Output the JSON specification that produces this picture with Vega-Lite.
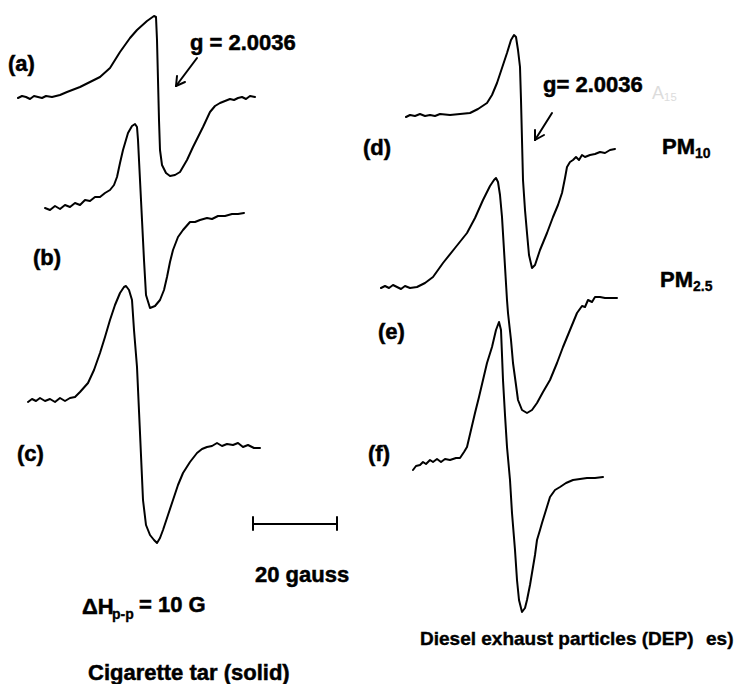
{
  "$schema": "https://vega.github.io/schema/vega-lite/v6.json",
  "width": 739,
  "height": 684,
  "autosize": {"type": "none"},
  "padding": 0,
  "background": "white",
  "config": {"view": {"stroke": null}, "axis": {"disable": true}},
  "datasets": {
    "curves": [
      {"s":"a","x":18,"y":98},{"s":"a","x":22,"y":96},{"s":"a","x":26,"y":97},{"s":"a","x":30,"y":99},{"s":"a","x":34,"y":96},{"s":"a","x":38,"y":97},{"s":"a","x":42,"y":98},{"s":"a","x":46,"y":96},{"s":"a","x":52,"y":97},{"s":"a","x":60,"y":95},{"s":"a","x":67,"y":92},{"s":"a","x":80,"y":87},{"s":"a","x":100,"y":77},{"s":"a","x":110,"y":68},{"s":"a","x":120,"y":52},{"s":"a","x":130,"y":38},{"s":"a","x":137,"y":30},{"s":"a","x":147,"y":21},{"s":"a","x":154,"y":16},{"s":"a","x":156,"y":17},{"s":"a","x":157,"y":40},{"s":"a","x":158,"y":80},{"s":"a","x":159,"y":120},{"s":"a","x":160,"y":150},{"s":"a","x":162,"y":165},{"s":"a","x":166,"y":173},{"s":"a","x":170,"y":176},{"s":"a","x":175,"y":175},{"s":"a","x":180,"y":172},{"s":"a","x":187,"y":160},{"s":"a","x":193,"y":147},{"s":"a","x":203,"y":127},{"s":"a","x":210,"y":112},{"s":"a","x":215,"y":106},{"s":"a","x":220,"y":103},{"s":"a","x":225,"y":101},{"s":"a","x":230,"y":99},{"s":"a","x":234,"y":100},{"s":"a","x":238,"y":98},{"s":"a","x":242,"y":97},{"s":"a","x":246,"y":99},{"s":"a","x":250,"y":96},{"s":"a","x":255,"y":97},
      {"s":"b","x":45,"y":208},{"s":"b","x":50,"y":210},{"s":"b","x":55,"y":206},{"s":"b","x":60,"y":209},{"s":"b","x":65,"y":205},{"s":"b","x":70,"y":207},{"s":"b","x":75,"y":203},{"s":"b","x":80,"y":205},{"s":"b","x":85,"y":200},{"s":"b","x":90,"y":201},{"s":"b","x":95,"y":197},{"s":"b","x":100,"y":197},{"s":"b","x":105,"y":193},{"s":"b","x":110,"y":190},{"s":"b","x":114,"y":185},{"s":"b","x":117,"y":177},{"s":"b","x":120,"y":163},{"s":"b","x":123,"y":150},{"s":"b","x":128,"y":133},{"s":"b","x":132,"y":126},{"s":"b","x":135,"y":124},{"s":"b","x":137,"y":127},{"s":"b","x":138,"y":140},{"s":"b","x":140,"y":180},{"s":"b","x":142,"y":220},{"s":"b","x":144,"y":260},{"s":"b","x":146,"y":295},{"s":"b","x":150,"y":308},{"s":"b","x":155,"y":306},{"s":"b","x":160,"y":300},{"s":"b","x":164,"y":290},{"s":"b","x":167,"y":277},{"s":"b","x":170,"y":262},{"s":"b","x":173,"y":250},{"s":"b","x":178,"y":237},{"s":"b","x":183,"y":230},{"s":"b","x":190,"y":222},{"s":"b","x":195,"y":222},{"s":"b","x":200,"y":220},{"s":"b","x":207,"y":218},{"s":"b","x":212,"y":219},{"s":"b","x":218,"y":216},{"s":"b","x":225,"y":216},{"s":"b","x":232,"y":214},{"s":"b","x":238,"y":214},{"s":"b","x":244,"y":213},
      {"s":"c","x":28,"y":402},{"s":"c","x":32,"y":399},{"s":"c","x":36,"y":401},{"s":"c","x":40,"y":398},{"s":"c","x":45,"y":401},{"s":"c","x":50,"y":399},{"s":"c","x":55,"y":402},{"s":"c","x":60,"y":398},{"s":"c","x":65,"y":401},{"s":"c","x":70,"y":398},{"s":"c","x":75,"y":397},{"s":"c","x":80,"y":392},{"s":"c","x":88,"y":383},{"s":"c","x":94,"y":370},{"s":"c","x":100,"y":353},{"s":"c","x":105,"y":337},{"s":"c","x":110,"y":320},{"s":"c","x":115,"y":305},{"s":"c","x":120,"y":293},{"s":"c","x":124,"y":287},{"s":"c","x":126,"y":286},{"s":"c","x":129,"y":290},{"s":"c","x":132,"y":300},{"s":"c","x":134,"y":330},{"s":"c","x":137,"y":367},{"s":"c","x":140,"y":433},{"s":"c","x":143,"y":500},{"s":"c","x":146,"y":525},{"s":"c","x":150,"y":535},{"s":"c","x":154,"y":540},{"s":"c","x":157,"y":543},{"s":"c","x":160,"y":538},{"s":"c","x":163,"y":530},{"s":"c","x":168,"y":515},{"s":"c","x":173,"y":500},{"s":"c","x":178,"y":485},{"s":"c","x":183,"y":473},{"s":"c","x":190,"y":462},{"s":"c","x":197,"y":453},{"s":"c","x":202,"y":449},{"s":"c","x":207,"y":447},{"s":"c","x":212,"y":446},{"s":"c","x":217,"y":443},{"s":"c","x":222,"y":446},{"s":"c","x":227,"y":444},{"s":"c","x":233,"y":445},{"s":"c","x":238,"y":443},{"s":"c","x":243,"y":447},{"s":"c","x":248,"y":445},{"s":"c","x":254,"y":448},{"s":"c","x":260,"y":448},
      {"s":"d","x":406,"y":117},{"s":"d","x":410,"y":115},{"s":"d","x":415,"y":116},{"s":"d","x":420,"y":114},{"s":"d","x":425,"y":116},{"s":"d","x":430,"y":115},{"s":"d","x":435,"y":116},{"s":"d","x":440,"y":114},{"s":"d","x":450,"y":115},{"s":"d","x":460,"y":114},{"s":"d","x":470,"y":113},{"s":"d","x":478,"y":109},{"s":"d","x":487,"y":103},{"s":"d","x":492,"y":95},{"s":"d","x":497,"y":83},{"s":"d","x":502,"y":68},{"s":"d","x":507,"y":53},{"s":"d","x":511,"y":40},{"s":"d","x":514,"y":35},{"s":"d","x":516,"y":37},{"s":"d","x":518,"y":50},{"s":"d","x":520,"y":67},{"s":"d","x":521,"y":100},{"s":"d","x":522,"y":140},{"s":"d","x":523,"y":180},{"s":"d","x":525,"y":210},{"s":"d","x":527,"y":233},{"s":"d","x":529,"y":255},{"s":"d","x":532,"y":268},{"s":"d","x":535,"y":265},{"s":"d","x":540,"y":250},{"s":"d","x":547,"y":233},{"s":"d","x":553,"y":217},{"s":"d","x":558,"y":205},{"s":"d","x":562,"y":193},{"s":"d","x":565,"y":178},{"s":"d","x":567,"y":167},{"s":"d","x":570,"y":162},{"s":"d","x":573,"y":160},{"s":"d","x":576,"y":157},{"s":"d","x":579,"y":160},{"s":"d","x":582,"y":155},{"s":"d","x":585,"y":157},{"s":"d","x":590,"y":155},{"s":"d","x":595,"y":154},{"s":"d","x":600,"y":152},{"s":"d","x":605,"y":153},{"s":"d","x":610,"y":150},{"s":"d","x":615,"y":149},
      {"s":"e","x":381,"y":288},{"s":"e","x":385,"y":286},{"s":"e","x":389,"y":288},{"s":"e","x":393,"y":285},{"s":"e","x":397,"y":287},{"s":"e","x":401,"y":289},{"s":"e","x":405,"y":286},{"s":"e","x":410,"y":288},{"s":"e","x":417,"y":287},{"s":"e","x":425,"y":283},{"s":"e","x":433,"y":277},{"s":"e","x":443,"y":263},{"s":"e","x":455,"y":248},{"s":"e","x":467,"y":233},{"s":"e","x":475,"y":218},{"s":"e","x":483,"y":200},{"s":"e","x":490,"y":186},{"s":"e","x":494,"y":180},{"s":"e","x":496,"y":178},{"s":"e","x":498,"y":182},{"s":"e","x":500,"y":195},{"s":"e","x":502,"y":217},{"s":"e","x":504,"y":250},{"s":"e","x":507,"y":300},{"s":"e","x":508,"y":313},{"s":"e","x":511,"y":340},{"s":"e","x":513,"y":363},{"s":"e","x":516,"y":385},{"s":"e","x":518,"y":400},{"s":"e","x":522,"y":410},{"s":"e","x":527,"y":413},{"s":"e","x":532,"y":410},{"s":"e","x":537,"y":403},{"s":"e","x":543,"y":392},{"s":"e","x":550,"y":380},{"s":"e","x":557,"y":363},{"s":"e","x":563,"y":347},{"s":"e","x":570,"y":330},{"s":"e","x":577,"y":313},{"s":"e","x":582,"y":306},{"s":"e","x":585,"y":307},{"s":"e","x":588,"y":300},{"s":"e","x":592,"y":302},{"s":"e","x":595,"y":297},{"s":"e","x":600,"y":297},{"s":"e","x":605,"y":298},{"s":"e","x":610,"y":298},{"s":"e","x":617,"y":298},
      {"s":"f","x":413,"y":470},{"s":"f","x":416,"y":466},{"s":"f","x":420,"y":465},{"s":"f","x":423,"y":462},{"s":"f","x":426,"y":464},{"s":"f","x":430,"y":460},{"s":"f","x":433,"y":462},{"s":"f","x":437,"y":459},{"s":"f","x":441,"y":462},{"s":"f","x":445,"y":459},{"s":"f","x":450,"y":460},{"s":"f","x":456,"y":458},{"s":"f","x":460,"y":458},{"s":"f","x":464,"y":452},{"s":"f","x":467,"y":447},{"s":"f","x":471,"y":430},{"s":"f","x":475,"y":413},{"s":"f","x":479,"y":397},{"s":"f","x":483,"y":380},{"s":"f","x":487,"y":363},{"s":"f","x":492,"y":347},{"s":"f","x":496,"y":330},{"s":"f","x":499,"y":322},{"s":"f","x":501,"y":330},{"s":"f","x":503,"y":380},{"s":"f","x":505,"y":415},{"s":"f","x":507,"y":447},{"s":"f","x":510,"y":480},{"s":"f","x":512,"y":513},{"s":"f","x":515,"y":550},{"s":"f","x":517,"y":580},{"s":"f","x":519,"y":600},{"s":"f","x":522,"y":612},{"s":"f","x":525,"y":608},{"s":"f","x":527,"y":600},{"s":"f","x":530,"y":585},{"s":"f","x":532,"y":573},{"s":"f","x":535,"y":555},{"s":"f","x":537,"y":540},{"s":"f","x":540,"y":530},{"s":"f","x":542,"y":523},{"s":"f","x":546,"y":510},{"s":"f","x":550,"y":497},{"s":"f","x":555,"y":490},{"s":"f","x":560,"y":487},{"s":"f","x":566,"y":483},{"s":"f","x":573,"y":480},{"s":"f","x":580,"y":479},{"s":"f","x":587,"y":478},{"s":"f","x":595,"y":478},{"s":"f","x":603,"y":477}
    ],
    "segments": [
      {"x":197,"y":58,"x2":176,"y2":86},
      {"x":176,"y":86,"x2":185,"y2":82},
      {"x":176,"y":86,"x2":177,"y2":76},
      {"x":552,"y":113,"x2":535,"y2":140},
      {"x":535,"y":140,"x2":544,"y2":135},
      {"x":535,"y":140,"x2":535,"y2":130},
      {"x":253,"y":524,"x2":337,"y2":524},
      {"x":253,"y":517,"x2":253,"y2":530},
      {"x":337,"y":517,"x2":337,"y2":530}
    ],
    "labels": [
      {"t":"(a)","x":8,"y":71},
      {"t":"g = 2.0036","x":190,"y":50},
      {"t":"(b)","x":33,"y":265},
      {"t":"(c)","x":17,"y":461},
      {"t":"(d)","x":363,"y":155},
      {"t":"(e)","x":378,"y":339},
      {"t":"(f)","x":368,"y":461},
      {"t":"g= 2.0036","x":543,"y":92},
      {"t":"20 gauss","x":255,"y":582},
      {"t":"ΔH","x":82,"y":614},
      {"t":"= 10 G","x":139,"y":612},
      {"t":"Cigarette tar (solid)","x":88,"y":680},
      {"t":"PM","x":662,"y":154},
      {"t":"PM","x":660,"y":287}
    ],
    "subs": [
      {"t":"p-p","x":112,"y":619},
      {"t":"10","x":695,"y":158},
      {"t":"2.5","x":693,"y":291}
    ],
    "footer": [
      {"t":"Diesel exhaust particles (DEP)","x":420,"y":645},
      {"t":"es)","x":706,"y":645}
    ],
    "faint": [
      {"t":"A₁₅","x":652,"y":99}
    ]
  },
  "layer": [
    {
      "data": {"name": "curves"},
      "mark": {"type": "line", "color": "black", "strokeWidth": 2, "strokeJoin": "round", "strokeCap": "round"},
      "encoding": {
        "x": {"field": "x", "type": "quantitative", "scale": {"domain": [0, 739], "nice": false, "zero": false}},
        "y": {"field": "y", "type": "quantitative", "scale": {"domain": [0, 684], "nice": false, "zero": false, "reverse": true}},
        "detail": {"field": "s"},
        "order": {"value": null}
      }
    },
    {
      "data": {"name": "segments"},
      "mark": {"type": "rule", "color": "black", "strokeWidth": 2, "strokeCap": "round"},
      "encoding": {
        "x": {"field": "x", "type": "quantitative"},
        "y": {"field": "y", "type": "quantitative"},
        "x2": {"field": "x2"},
        "y2": {"field": "y2"}
      }
    },
    {
      "data": {"name": "labels"},
      "mark": {"type": "text", "font": "Liberation Sans", "fontWeight": "bold", "fontSize": 22, "align": "left", "baseline": "alphabetic", "color": "black", "stroke": "black", "strokeWidth": 0.5},
      "encoding": {
        "x": {"field": "x", "type": "quantitative"},
        "y": {"field": "y", "type": "quantitative"},
        "text": {"field": "t"}
      }
    },
    {
      "data": {"name": "subs"},
      "mark": {"type": "text", "font": "Liberation Sans", "fontWeight": "bold", "fontSize": 14, "align": "left", "baseline": "alphabetic", "color": "black", "stroke": "black", "strokeWidth": 0.3},
      "encoding": {
        "x": {"field": "x", "type": "quantitative"},
        "y": {"field": "y", "type": "quantitative"},
        "text": {"field": "t"}
      }
    },
    {
      "data": {"name": "footer"},
      "mark": {"type": "text", "font": "Liberation Sans", "fontWeight": "bold", "fontSize": 19, "align": "left", "baseline": "alphabetic", "color": "black", "stroke": "black", "strokeWidth": 0.4},
      "encoding": {
        "x": {"field": "x", "type": "quantitative"},
        "y": {"field": "y", "type": "quantitative"},
        "text": {"field": "t"}
      }
    },
    {
      "data": {"name": "faint"},
      "mark": {"type": "text", "font": "Liberation Sans", "fontWeight": "normal", "fontSize": 18, "align": "left", "baseline": "alphabetic", "color": "#dcdcdc"},
      "encoding": {
        "x": {"field": "x", "type": "quantitative"},
        "y": {"field": "y", "type": "quantitative"},
        "text": {"field": "t"}
      }
    }
  ]
}
